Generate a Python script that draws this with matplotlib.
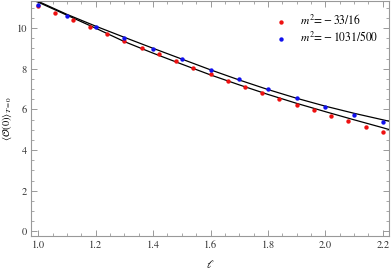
import numpy as np
import matplotlib
matplotlib.use('Agg')
import matplotlib.pyplot as plt
from matplotlib.ticker import MultipleLocator

plt.rcParams['font.family'] = ['STIXGeneral', 'DejaVu Serif']
plt.rcParams['mathtext.fontset'] = 'stix'

# data points, m^2 = -33/16 (red)
red_x = [1.00, 1.06, 1.12, 1.18, 1.24, 1.30, 1.36, 1.42, 1.48, 1.54, 1.60,
         1.66, 1.72, 1.78, 1.84, 1.90, 1.96, 2.02, 2.08, 2.14, 2.20]
red_y = [11.08, 10.76, 10.41, 10.08, 9.72, 9.38, 9.04, 8.72, 8.36, 8.05, 7.73,
         7.42, 7.10, 6.81, 6.51, 6.22, 5.95, 5.68, 5.41, 5.16, 4.90]

# data points, m^2 = -1031/500 (blue)
blue_x = [1.0, 1.1, 1.2, 1.3, 1.4, 1.5, 1.6, 1.7, 1.8, 1.9, 2.0, 2.1, 2.2]
blue_y = [11.16, 10.59, 10.05, 9.51, 8.99, 8.46, 7.96, 7.48, 7.00, 6.56, 6.14, 5.75, 5.36]

# fitted curves (black)
fit_x = [0.99, 1.0, 1.1, 1.2, 1.3, 1.4, 1.5, 1.6, 1.7, 1.8, 1.9, 2.0, 2.1, 2.2, 2.222]
fit_upper = [11.37, 11.32, 10.68, 10.10, 9.55, 9.01, 8.48, 7.95, 7.45, 6.98, 6.55, 6.16, 5.81, 5.49, 5.42]
fit_lower = [11.33, 11.28, 10.64, 10.00, 9.34, 8.77, 8.23, 7.70, 7.21, 6.74, 6.30, 5.89, 5.49, 5.10, 5.01]

fig = plt.figure(figsize=(3.91, 2.71), dpi=100)
ax = fig.add_axes([0.0793, 0.129, 0.916, 0.869])

ax.plot(fit_x, fit_upper, color='black', lw=0.9)
ax.plot(fit_x, fit_lower, color='black', lw=0.9)
ax.scatter(red_x, red_y, s=10, color='#ee1111', zorder=3, linewidths=0,
           label=r'$m^2\!=\!-33/16$')
ax.scatter(blue_x, blue_y, s=10, color='#1111ee', zorder=3, linewidths=0,
           label=r'$m^2\!=\!-1031/500$')

ax.set_xlim(0.975, 2.222)
ax.set_ylim(-0.23, 11.36)

ax.xaxis.set_major_locator(MultipleLocator(0.2))
ax.xaxis.set_minor_locator(MultipleLocator(0.05))
ax.yaxis.set_major_locator(MultipleLocator(2))
ax.yaxis.set_minor_locator(MultipleLocator(0.5))
ax.set_xticks(np.arange(1.0, 2.21, 0.2))
ax.set_xticklabels(['1.0', '1.2', '1.4', '1.6', '1.8', '2.0', '2.2'])

gray = '#999999'
for s in ax.spines.values():
    s.set_color(gray)
    s.set_linewidth(0.8)
ax.tick_params(which='both', direction='in', top=True, right=True,
               color=gray, labelsize=7.5, labelcolor='#333333', pad=3)
ax.tick_params(which='major', length=4, width=0.7)
ax.tick_params(which='minor', length=2.2, width=0.6)

ax.set_xlabel(r'$\ell$', fontsize=8, labelpad=6)
ax.set_ylabel(r'$\langle\mathcal{O}(0)\rangle_{T=0}$', fontsize=7.5, labelpad=2)

ax.legend(loc='upper right', bbox_to_anchor=(0.998, 0.99), frameon=False,
          fontsize=8.3, handletextpad=0.6, markerscale=1.0, labelspacing=0.3)

fig.savefig('out.png', dpi=100)
